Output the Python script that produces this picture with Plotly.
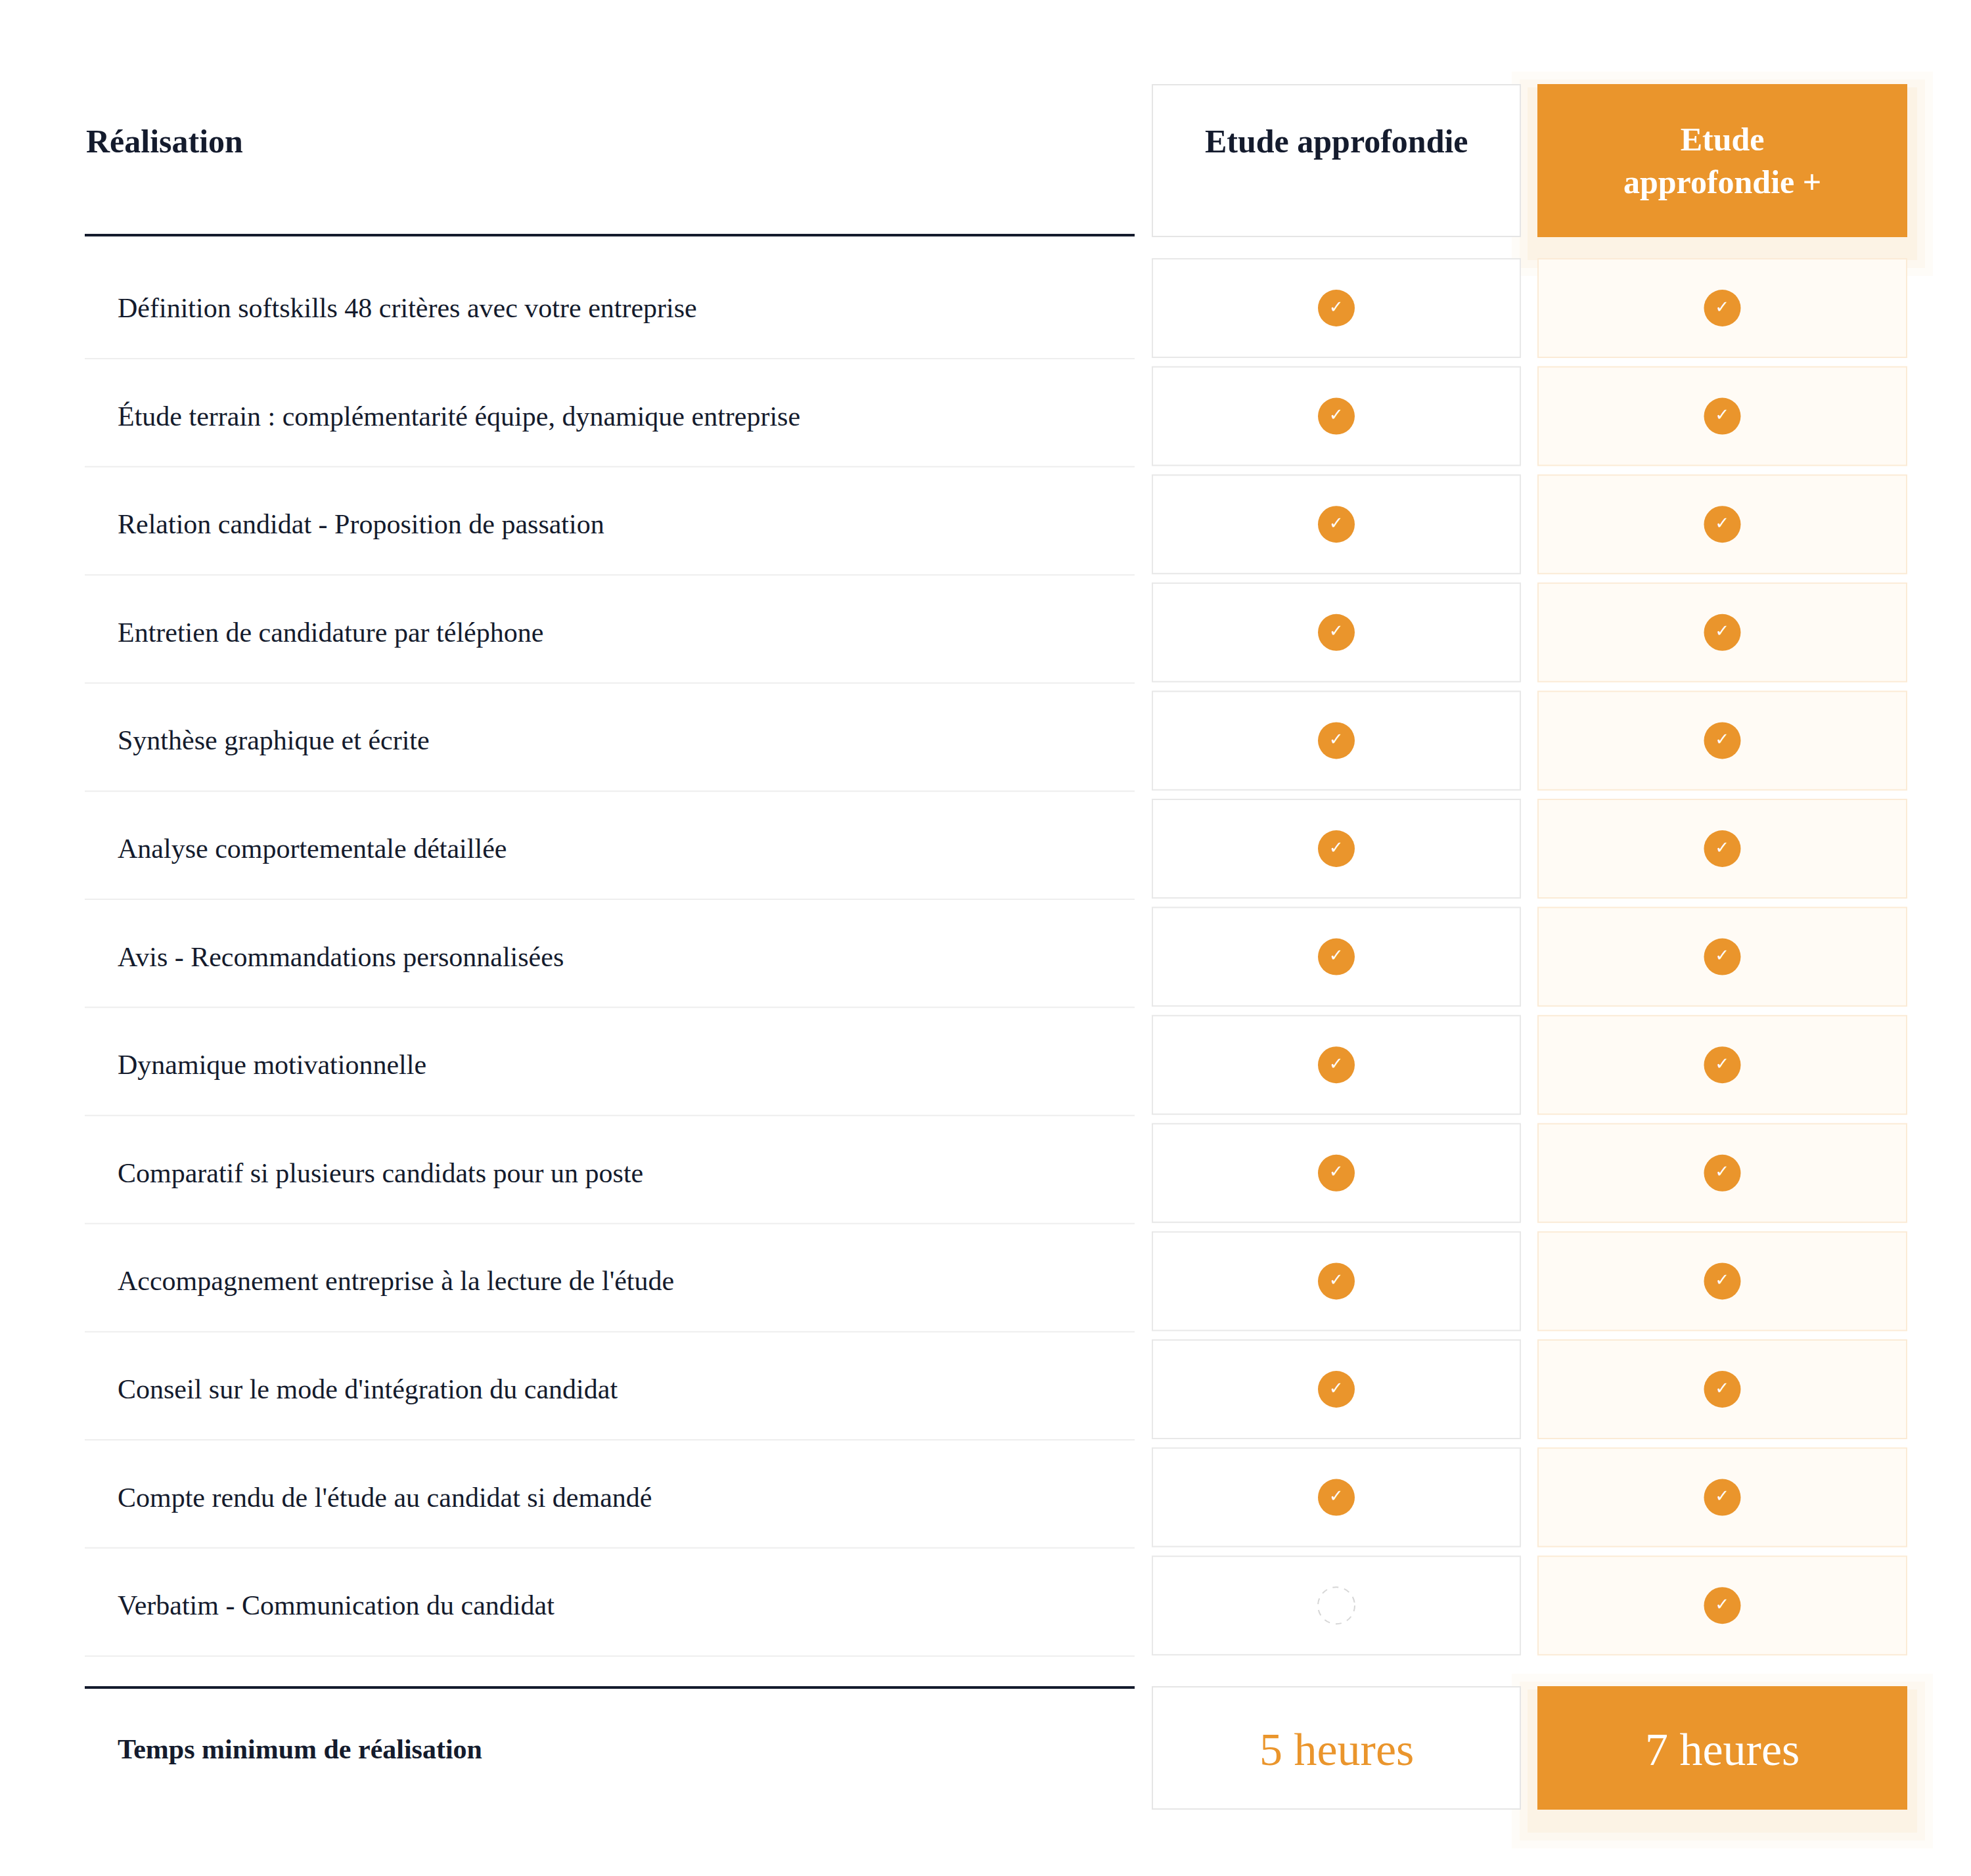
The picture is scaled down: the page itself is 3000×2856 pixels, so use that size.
import plotly.graph_objects as go

# données du tableau comparatif
header_left = "Réalisation"
plans = ["Etude approfondie", "Etude<br>approfondie +"]
rows = [
    "Définition softskills 48 critères avec votre entreprise",
    "Étude terrain : complémentarité équipe, dynamique entreprise",
    "Relation candidat - Proposition de passation",
    "Entretien de candidature par téléphone",
    "Synthèse graphique et écrite",
    "Analyse comportementale détaillée",
    "Avis - Recommandations personnalisées",
    "Dynamique motivationnelle",
    "Comparatif si plusieurs candidats pour un poste",
    "Accompagnement entreprise à la lecture de l'étude",
    "Conseil sur le mode d'intégration du candidat",
    "Compte rendu de l'étude au candidat si demandé",
    "Verbatim - Communication du candidat",
]
plan1 = [1, 1, 1, 1, 1, 1, 1, 1, 1, 1, 1, 1, 0]
plan2 = [1, 1, 1, 1, 1, 1, 1, 1, 1, 1, 1, 1, 1]
footer_label = "Temps minimum de réalisation"
footer_values = ["5 heures", "7 heures"]

W, H = 3000, 2856
ORANGE = "#EA952C"
DARK = "#141B2D"
FONT = "Liberation Serif"

col_x = [(1746, 2306), (2333, 2894)]
col_c = [(a + b) / 2 for a, b in col_x]
left_x0, left_x1 = 121, 1719
row_y0, row_step, row_h = 386, 164.6, 150
row_c = [row_y0 + row_h / 2 + i * row_step for i in range(len(rows))]

fig = go.Figure()
shapes, annots = [], []

def rect(x0, y0, x1, y1, fill, line, width=2):
    shapes.append(dict(type="rect", x0=x0, y0=y0, x1=x1, y1=y1, fillcolor=fill,
                       line=dict(color=line, width=width), layer="below"))

# ombres des cases orange
for y0, y1 in [(121, 352), (2560, 2746)]:
    for k, op in [(40, 0.03), (28, 0.04), (16, 0.05)]:
        shapes.append(dict(type="rect", x0=col_x[1][0] - k, y0=y0 - k + 20, x1=col_x[1][1] + k,
                           y1=y1 + k + 20, fillcolor="rgba(234,149,44,%s)" % op,
                           line=dict(width=0), layer="below"))

# en-tête
rect(col_x[0][0], 121, col_x[0][1], 352, "white", "#E5E5E5")
rect(col_x[1][0], 121, col_x[1][1], 352, ORANGE, ORANGE)
shapes.append(dict(type="line", x0=left_x0, x1=left_x1, y0=350, y1=350,
                   line=dict(color=DARK, width=4)))
annots.append(dict(x=left_x0, y=207, text="<b>%s</b>" % header_left, xanchor="left",
                   showarrow=False, font=dict(family=FONT, size=50, color=DARK)))
annots.append(dict(x=col_c[0], y=207, text="<b>%s</b>" % plans[0], showarrow=False,
                   font=dict(family=FONT, size=50, color=DARK)))
annots.append(dict(x=col_c[1], y=236, text="<b>%s</b>" % plans[1], showarrow=False,
                   font=dict(family=FONT, size=50, color="white")))

# lignes
for i, (label, yc) in enumerate(zip(rows, row_c)):
    y0, y1 = yc - row_h / 2, yc + row_h / 2
    rect(col_x[0][0], y0, col_x[0][1], y1, "white", "#E8E8E8")
    rect(col_x[1][0], y0, col_x[1][1], y1, "#FFFBF5", "#FBEBD6")
    shapes.append(dict(type="line", x0=left_x0, x1=left_x1, y0=y1 + 2, y1=y1 + 2,
                       line=dict(color="#EEEEEE", width=2)))
    annots.append(dict(x=169, y=yc, text=label, xanchor="left", showarrow=False,
                       font=dict(family=FONT, size=42, color=DARK)))

# coches
for c, vals in zip(col_c, [plan1, plan2]):
    ys = [y for y, v in zip(row_c, vals) if v]
    fig.add_trace(go.Scatter(x=[c] * len(ys), y=ys, mode="markers+text", text=["✓"] * len(ys),
                             textfont=dict(family="DejaVu Sans", size=26, color="white"),
                             marker=dict(size=56, color=ORANGE, line=dict(width=0)),
                             hoverinfo="skip", showlegend=False))
    for y, v in zip(row_c, vals):
        if not v:
            shapes.append(dict(type="circle", x0=c - 28, x1=c + 28, y0=y - 28, y1=y + 28,
                               line=dict(color="#D6D6D6", width=2, dash="dash")))

# pied
shapes.append(dict(type="line", x0=left_x0, x1=left_x1, y0=2561, y1=2561,
                   line=dict(color=DARK, width=4)))
rect(col_x[0][0], 2560, col_x[0][1], 2746, "white", "#E5E5E5")
rect(col_x[1][0], 2560, col_x[1][1], 2746, ORANGE, ORANGE)
annots.append(dict(x=169, y=2655, text="<b>%s</b>" % footer_label, xanchor="left",
                   showarrow=False, font=dict(family=FONT, size=42, color=DARK)))
for c, txt, col in zip(col_c, footer_values, [ORANGE, "white"]):
    annots.append(dict(x=c, y=2655, text=txt, showarrow=False,
                       font=dict(family=FONT, size=70, color=col)))

fig.update_layout(width=W, height=H, margin=dict(l=0, r=0, t=0, b=0),
                  paper_bgcolor="white", plot_bgcolor="white",
                  xaxis=dict(range=[0, W], visible=False, fixedrange=True),
                  yaxis=dict(range=[H, 0], visible=False, fixedrange=True),
                  shapes=shapes, annotations=annots)
fig.write_html("out.html")
